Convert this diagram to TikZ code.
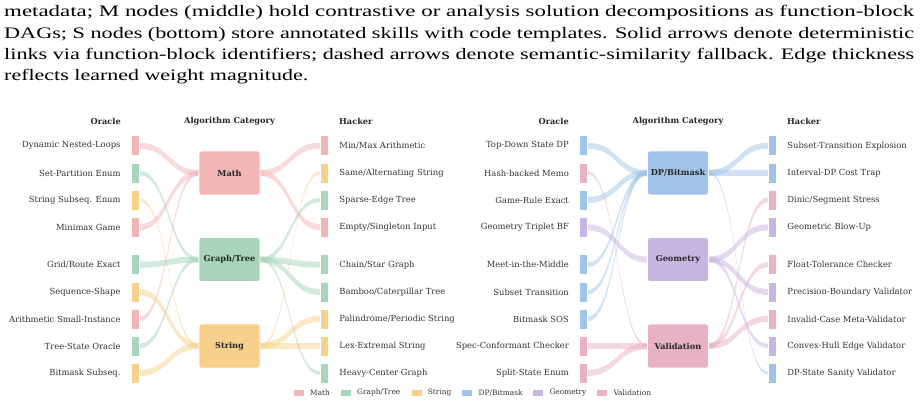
\documentclass[tikz,border=0pt]{standalone}
\usepackage{fontspec}
\usepackage{graphicx}
\setmainfont{DejaVu Serif}
\newfontfamily\capfont{Liberation Serif}
\usetikzlibrary{calc}
\pgfdeclarelayer{background}
\pgfsetlayers{background,main}
\definecolor{cMath}{RGB}{243,182,182}
\definecolor{cGraph}{RGB}{168,213,186}
\definecolor{cString}{RGB}{247,208,139}
\definecolor{cDP}{RGB}{160,196,232}
\definecolor{cGeom}{RGB}{200,182,226}
\definecolor{cVal}{RGB}{232,178,198}
\definecolor{txt}{RGB}{51,51,51}
\newcommand\flowband[4]{%
  \begin{pgfonlayer}{background}
  \fill[#4, opacity=0.5] let \p1=(#1.east), \p2=(#2.west), \n1={0.5*(\x1+\x2)} in
    (\x1,{\y1+#3pt}) .. controls (\n1,{\y1+#3pt}) and (\n1,{\y2+#3pt}) .. (\x2,{\y2+#3pt})
    -- (\x2,{\y2-#3pt}) .. controls (\n1,{\y2-#3pt}) and (\n1,{\y1-#3pt}) .. (\x1,{\y1-#3pt}) -- cycle;
  \end{pgfonlayer}}
\newcommand\oraclerow[5]{%
  \node[barbox, fill=#4] (#1) at (#2,#3) {};
  \node[lbl, anchor=east] (#1t) at ($(#1.west)+(-10,0)$) {#5};}
\newcommand\hackerrow[5]{%
  \node[barbox, fill=#4] (#1) at (#2,#3) {};
  \node[lbl, anchor=west] (#1t) at ($(#1.east)+(11,0)$) {#5};}
\newcommand\legitem[3]{%
  \node[legtx] (#1t) at (#2,392.7) {#3};
  \node[legsw, anchor=east, fill=#1] (#1s) at ($(#1t.west)+(-6,0)$) {};}
\begin{document}
\begin{tikzpicture}[x=1pt,y=-1pt,
  barbox/.style={draw=white, line width=0.5pt, minimum width=8pt, minimum height=20pt, inner sep=0pt},
  catbox/.style={draw=white, line width=0.8pt, rounded corners=2.5pt, minimum width=61pt, minimum height=44pt, inner sep=1pt, font=\bfseries\fontsize{8.2}{10}\selectfont, text=black!85},
  lbl/.style={font=\fontsize{8.4}{10}\selectfont, text=txt, inner sep=0pt},
  hdr/.style={font=\bfseries\fontsize{8.2}{10}\selectfont, text=black!85, inner sep=0pt},
  legsw/.style={minimum width=10pt, minimum height=6pt, inner sep=0pt},
  legtx/.style={font=\fontsize{7.4}{8}\selectfont, text=txt, inner sep=0pt, anchor=west},
  capline/.style={anchor=base west, inner sep=0pt, font=\capfont\fontsize{16}{18}\selectfont}]
\begin{pgfonlayer}{background}
\fill[white] (0,0) rectangle (921,403);
\end{pgfonlayer}
\useasboundingbox (0,0) rectangle (921,403);
% caption text
\node[capline] (cap1) at (4,16.7) {\resizebox{910pt}{\height}{metadata; M nodes (middle) hold contrastive or analysis solution decompositions as function-block}};
\node[capline] (cap2) at (4,38.3) {\resizebox{910pt}{\height}{DAGs; S nodes (bottom) store annotated skills with code templates. Solid arrows denote deterministic}};
\node[capline] (cap3) at (4,59.6) {\resizebox{910pt}{\height}{links via function-block identifiers; dashed arrows denote semantic-similarity fallback. Edge thickness}};
\node[capline] (cap4) at (4,81) {\resizebox{304pt}{\height}{reflects learned weight magnitude.}};
% headers
\node[hdr, anchor=east] (Lhdo) at (121,121.7) {Oracle};
\node[hdr] (Lhdc) at (229.5,121.7) {Algorithm Category};
\node[hdr, anchor=west] (Lhdh) at (339,121.7) {Hacker};
\node[hdr, anchor=east] (Rhdo) at (569,121.7) {Oracle};
\node[hdr] (Rhdc) at (678,121.7) {Algorithm Category};
\node[hdr, anchor=west] (Rhdh) at (787,121.7) {Hacker};
% category boxes
\node[catbox, fill=cMath] (Lmath) at (229.5,173) {Math};
\node[catbox, fill=cGraph] (Lgraph) at (229.5,259.5) {Graph/Tree};
\node[catbox, fill=cString] (Lstr) at (229.5,346) {String};
\node[catbox, fill=cDP] (Rdp) at (678,173) {DP/Bitmask};
\node[catbox, fill=cGeom] (Rgeo) at (678,259.5) {Geometry};
\node[catbox, fill=cVal] (Rval) at (678,346) {Validation};
% left oracle
\oraclerow{Lo1}{135}{145.7}{cMath}{Dynamic Nested-Loops}
\oraclerow{Lo2}{135}{173}{cGraph}{Set-Partition Enum}
\oraclerow{Lo3}{135}{200}{cString}{String Subseq. Enum}
\oraclerow{Lo4}{135}{227.3}{cMath}{Minimax Game}
\oraclerow{Lo5}{135}{264.7}{cGraph}{Grid/Route Exact}
\oraclerow{Lo6}{135}{292}{cString}{Sequence-Shape}
\oraclerow{Lo7}{135}{319}{cMath}{Arithmetic Small-Instance}
\oraclerow{Lo8}{135}{346}{cGraph}{Tree-State Oracle}
\oraclerow{Lo9}{135}{373}{cString}{Bitmask Subseq.}
% left hacker
\hackerrow{Lh1}{324}{145.7}{cMath}{Min/Max Arithmetic}
\hackerrow{Lh2}{324}{173}{cString}{Same/Alternating String}
\hackerrow{Lh3}{324}{200}{cGraph}{Sparse-Edge Tree}
\hackerrow{Lh4}{324}{227.3}{cMath}{Empty/Singleton Input}
\hackerrow{Lh5}{324}{264.7}{cGraph}{Chain/Star Graph}
\hackerrow{Lh6}{324}{292}{cGraph}{Bamboo/Caterpillar Tree}
\hackerrow{Lh7}{324}{319}{cString}{Palindrome/Periodic String}
\hackerrow{Lh8}{324}{346}{cString}{Lex-Extremal String}
\hackerrow{Lh9}{324}{373}{cGraph}{Heavy-Center Graph}
% right oracle
\oraclerow{Ro1}{583.3}{145.7}{cDP}{Top-Down State DP}
\oraclerow{Ro2}{583.3}{173}{cVal}{Hash-backed Memo}
\oraclerow{Ro3}{583.3}{200}{cDP}{Game-Rule Exact}
\oraclerow{Ro4}{583.3}{227.3}{cGeom}{Geometry Triplet BF}
\oraclerow{Ro5}{583.3}{264.7}{cDP}{Meet-in-the-Middle}
\oraclerow{Ro6}{583.3}{292}{cDP}{Subset Transition}
\oraclerow{Ro7}{583.3}{319}{cDP}{Bitmask SOS}
\oraclerow{Ro8}{583.3}{346}{cVal}{Spec-Conformant Checker}
\oraclerow{Ro9}{583.3}{373}{cVal}{Split-State Enum}
% right hacker
\hackerrow{Rh1}{772}{145.7}{cDP}{Subset-Transition Explosion}
\hackerrow{Rh2}{772}{173}{cDP}{Interval-DP Cost Trap}
\hackerrow{Rh3}{772}{200}{cVal}{Dinic/Segment Stress}
\hackerrow{Rh4}{772}{227.3}{cGeom}{Geometric Blow-Up}
\hackerrow{Rh5}{772}{264.7}{cVal}{Float-Tolerance Checker}
\hackerrow{Rh6}{772}{292}{cGeom}{Precision-Boundary Validator}
\hackerrow{Rh7}{772}{319}{cVal}{Invalid-Case Meta-Validator}
\hackerrow{Rh8}{772}{346}{cGeom}{Convex-Hull Edge Validator}
\hackerrow{Rh9}{772}{373}{cDP}{DP-State Sanity Validator}
% bands left
\flowband{Lo1}{Lmath}{3}{cMath}
\flowband{Lo2}{Lgraph}{2.25}{cGraph}
\flowband{Lo3}{Lstr}{1.5}{cString}
\flowband{Lo4}{Lmath}{3}{cMath}
\flowband{Lo5}{Lgraph}{3}{cGraph}
\flowband{Lo6}{Lstr}{3}{cString}
\flowband{Lo7}{Lmath}{2.25}{cMath}
\flowband{Lo8}{Lgraph}{2.25}{cGraph}
\flowband{Lo9}{Lstr}{3}{cString}
\flowband{Lmath}{Lh1}{3}{cMath}
\flowband{Lstr}{Lh2}{1.5}{cString}
\flowband{Lgraph}{Lh3}{2.25}{cGraph}
\flowband{Lmath}{Lh4}{3}{cMath}
\flowband{Lgraph}{Lh5}{3}{cGraph}
\flowband{Lgraph}{Lh6}{3}{cGraph}
\flowband{Lstr}{Lh7}{3}{cString}
\flowband{Lstr}{Lh8}{3}{cString}
\flowband{Lgraph}{Lh9}{1.75}{cGraph}
% bands right
\flowband{Ro1}{Rdp}{3}{cDP}
\flowband{Ro2}{Rval}{1.5}{cVal}
\flowband{Ro3}{Rdp}{3}{cDP}
\flowband{Ro4}{Rgeo}{3}{cGeom}
\flowband{Ro5}{Rdp}{2.25}{cDP}
\flowband{Ro6}{Rdp}{2.25}{cDP}
\flowband{Ro7}{Rdp}{2.25}{cDP}
\flowband{Ro8}{Rval}{3}{cVal}
\flowband{Ro9}{Rval}{3}{cVal}
\flowband{Rdp}{Rh1}{3}{cDP}
\flowband{Rdp}{Rh2}{3}{cDP}
\flowband{Rval}{Rh3}{2.5}{cVal}
\flowband{Rgeo}{Rh4}{3}{cGeom}
\flowband{Rval}{Rh5}{2.5}{cVal}
\flowband{Rgeo}{Rh6}{3}{cGeom}
\flowband{Rval}{Rh7}{3}{cVal}
\flowband{Rgeo}{Rh8}{2.25}{cGeom}
\flowband{Rdp}{Rh9}{1.25}{cDP}
% legend
\legitem{cMath}{310}{Math}
\legitem{cGraph}{357}{Graph/Tree}
\legitem{cString}{427.7}{String}
\legitem{cDP}{478.5}{DP/Bitmask}
\legitem{cGeom}{549.3}{Geometry}
\legitem{cVal}{613.3}{Validation}
\end{tikzpicture}
\end{document}
